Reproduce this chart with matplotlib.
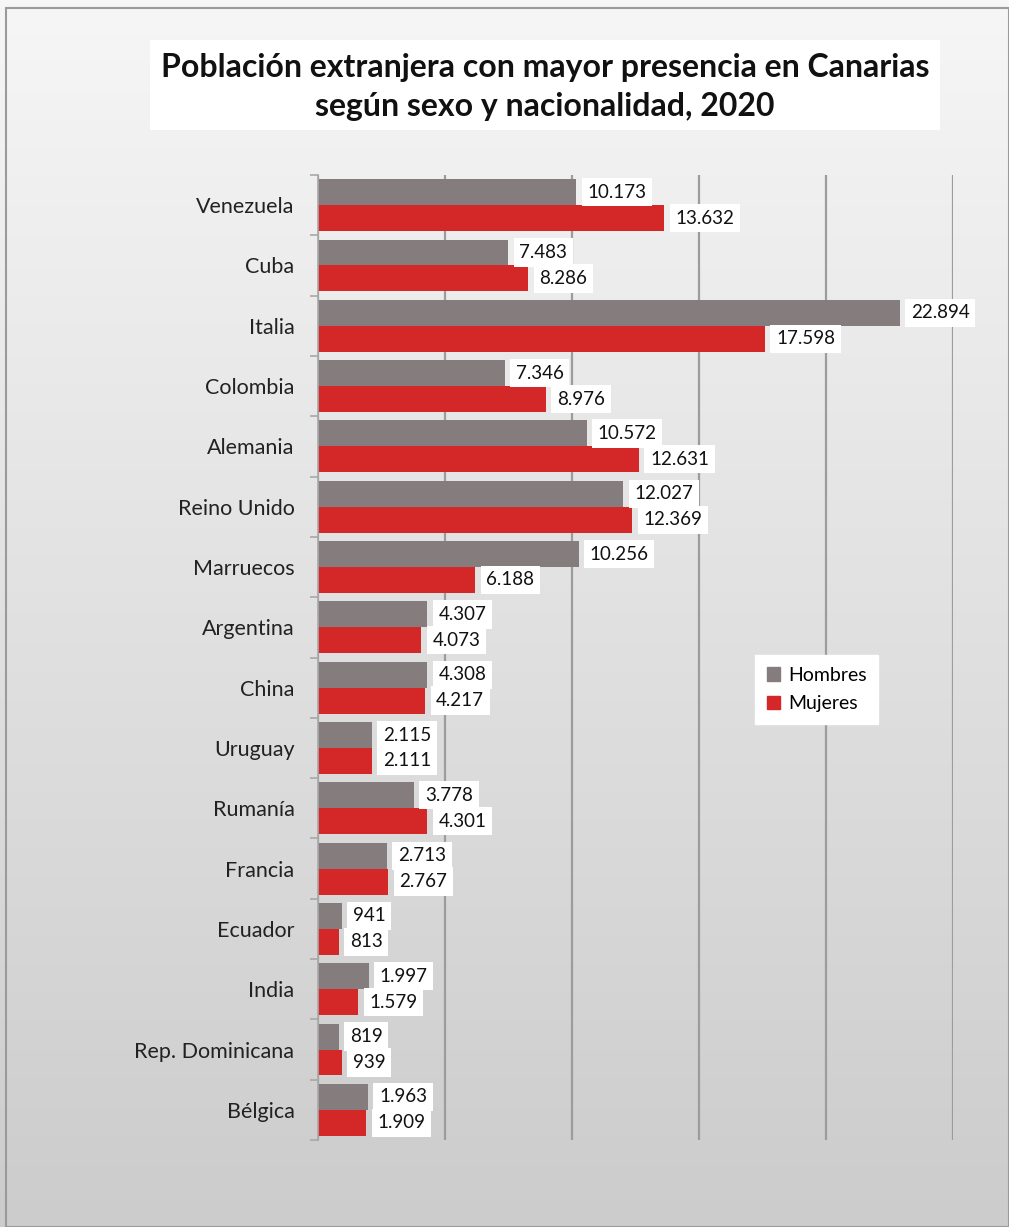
import matplotlib
matplotlib.use("Agg")
import matplotlib.pyplot as plt
import numpy as np
from matplotlib.patches import Rectangle, Patch

categories = ["Venezuela", "Cuba", "Italia", "Colombia", "Alemania", "Reino Unido",
              "Marruecos", "Argentina", "China", "Uruguay", "Rumanía", "Francia",
              "Ecuador", "India", "Rep. Dominicana", "Bélgica"]
hombres = [10173, 7483, 22894, 7346, 10572, 12027, 10256, 4307, 4308, 2115, 3778, 2713, 941, 1997, 819, 1963]
mujeres = [13632, 8286, 17598, 8976, 12631, 12369, 6188, 4073, 4217, 2111, 4301, 2767, 813, 1579, 939, 1909]
series_names = ["Hombres", "Mujeres"]
title = "Población extranjera con mayor presencia en Canarias\nsegún sexo y nacionalidad, 2020"

GRAY = "#857d7d"
RED = "#d42727"
FONT = ["Lato", "DejaVu Sans"]

W, H = 1009, 1227
fig = plt.figure(figsize=(W / 100, H / 100), dpi=100)

# background gradient
bg = fig.add_axes([0, 0, 1, 1], zorder=0)
grad = np.linspace(0.965, 0.80, 256).reshape(-1, 1)
bg.imshow(np.dstack([grad, grad, grad]), aspect="auto", extent=[0, 1, 0, 1], origin="upper")
bg.set_xlim(0, 1); bg.set_ylim(0, 1)
bg.axis("off")
# border
bg.add_patch(Rectangle((6 / W, 0), 1 - 6 / W, 1 - 8 / H, fill=False, ec="#9a9a9a", lw=1.5,
                       transform=bg.transAxes))
# title box
bg.add_patch(Rectangle((150 / W, 1 - 130 / H), 790 / W, 90 / H, fc="white", ec="none",
                       transform=bg.transAxes))
fig.text(545 / W, 1 - 87 / H, title, ha="center", va="center", fontsize=23,
         fontweight="bold", family=FONT, linespacing=1.42, color="#111111")

left, right, top, bottom = 318, 953, 175, 1140
ax = fig.add_axes([left / W, 1 - bottom / H, (right - left) / W, (bottom - top) / H], zorder=1)
ax.patch.set_alpha(0)

n = len(categories)
y = np.arange(n)
bh = 0.43
ax.barh(y - bh / 2, hombres, height=bh, color=GRAY, zorder=2, label=series_names[0])
ax.barh(y + bh / 2, mujeres, height=bh, color=RED, zorder=2, label=series_names[1])

ax.set_xlim(0, 25000)
ax.set_ylim(n - 0.5, -0.5)
ax.set_xticks(np.arange(0, 25001, 5000))
ax.xaxis.grid(True, color="#9c9c9c", lw=1.6, zorder=1)
ax.tick_params(axis="x", length=0, labelbottom=False)
for s in ["top", "right", "bottom"]:
    ax.spines[s].set_visible(False)
ax.spines["left"].set_color("#a8a8a8")
ax.spines["left"].set_linewidth(1.2)

ax.set_yticks(y)
ax.set_yticklabels(categories, fontsize=15.5, family=FONT, color="#222222")
ax.set_yticks(np.arange(-0.5, n, 1), minor=True)
ax.tick_params(axis="y", which="major", length=0, pad=17)
ax.tick_params(axis="y", which="minor", length=6, color="#a8a8a8", width=1.2)

def fmt(v):
    return f"{v:,}".replace(",", ".")

for i in range(n):
    for val, off in ((hombres[i], -bh / 2), (mujeres[i], bh / 2)):
        ax.annotate(fmt(val), (val, i + off), xytext=(8, 0), textcoords="offset points",
                    ha="left", va="center", fontsize=13.5, family=FONT, color="#111111",
                    bbox=dict(boxstyle="square,pad=0.3", fc="white", ec="none"), zorder=3)

handles = [Patch(color=GRAY, label=series_names[0]), Patch(color=RED, label=series_names[1])]
leg = ax.legend(handles=handles, loc="upper left", bbox_to_anchor=((755 - left) / (right - left), 1 - (655 - top) / (bottom - top)),
                frameon=True, fancybox=False, framealpha=1, edgecolor="white",
                prop={"family": FONT, "size": 14}, handlelength=0.7, handleheight=0.7,
                handletextpad=0.4, labelspacing=0.6, borderpad=0.6, borderaxespad=0)

fig.savefig("out.png", dpi=100)
